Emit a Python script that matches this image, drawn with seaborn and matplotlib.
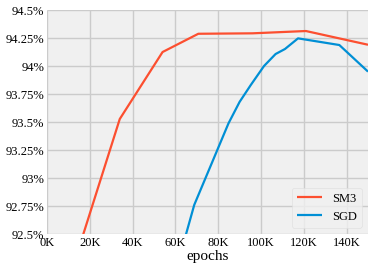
import pandas as pd
import matplotlib
matplotlib.use('Agg')
import matplotlib.pyplot as plt
import seaborn as sns
from matplotlib.ticker import FuncFormatter

# ----- DATA -----
sm3_epochs = [14000, 34000, 54000, 70700, 96000, 121000, 150000]
sm3_acc = [92.32, 93.527, 94.125, 94.288, 94.292, 94.3125, 94.19]

sgd_epochs = [60000, 68800, 84800, 90000, 95200, 101400, 106800, 111200, 117300, 136600, 150000]
sgd_acc = [92.16, 92.76, 93.488, 93.68, 93.83, 94.0, 94.107, 94.152, 94.247, 94.1875, 93.95]

series_names = ['SM3', 'SGD']
series_colors = ['#fc4f30', '#008fd5']

df = pd.concat([
    pd.DataFrame({'epochs': sm3_epochs, 'acc': sm3_acc, 'optimizer': 'SM3'}),
    pd.DataFrame({'epochs': sgd_epochs, 'acc': sgd_acc, 'optimizer': 'SGD'}),
])

# ----- PLOT -----
plt.style.use('fivethirtyeight')
plt.rcParams['font.family'] = ['Liberation Serif', 'DejaVu Serif']

fig = plt.figure(figsize=(3.74, 2.71), dpi=100, facecolor='white')
ax = fig.add_axes([0.1257, 0.1365, 0.8583, 0.8265])
ax.set_facecolor('#f0f0f0')

sns.lineplot(data=df, x='epochs', y='acc', hue='optimizer', hue_order=series_names,
             palette=series_colors, linewidth=1.6, ax=ax)

ax.set_xlim(0, 150000)
ax.set_ylim(92.5, 94.5)
ax.set_xticks(range(0, 150000, 20000))
ax.set_yticks([92.5, 92.75, 93, 93.25, 93.5, 93.75, 94, 94.25, 94.5])
ax.xaxis.set_major_formatter(FuncFormatter(lambda v, p: f'{v/1000:.0f}K'))
ax.yaxis.set_major_formatter(FuncFormatter(lambda v, p: f'{v:g}%'))
ax.tick_params(labelsize=9, length=0, pad=2)
ax.grid(True, color='#cbcbcb', linewidth=1)
ax.set_xlabel('epochs', fontsize=11, labelpad=1)
ax.set_ylabel('')
for s in ax.spines.values():
    s.set_visible(False)

leg = ax.legend(loc='lower right', fontsize=9, frameon=True, handlelength=2)
leg.get_frame().set_facecolor('#f0f0f0')
leg.get_frame().set_edgecolor('#dddddd')

fig.savefig('out.png', dpi=100, facecolor='white')
